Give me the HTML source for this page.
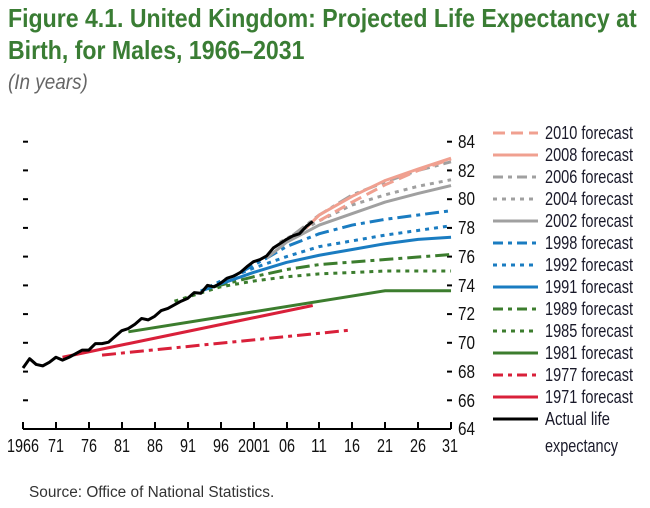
<!DOCTYPE html>
<html><head><meta charset="utf-8"><style>
body{margin:0;background:#fff;width:650px;height:508px;overflow:hidden;font-family:"Liberation Sans",sans-serif}
.t{position:absolute;left:8px;color:#3a7d34;font-weight:bold;font-size:26px;white-space:nowrap;transform-origin:0 0;transform:scaleX(0.888)}
</style></head><body>
<div class="t" style="top:3px">Figure 4.1. United Kingdom: Projected Life Expectancy at</div>
<div class="t" style="top:35px">Birth, for Males, 1966–2031</div>
<div style="position:absolute;left:8px;top:71px;font-style:italic;color:#666;font-size:21px;transform-origin:0 0;transform:scaleX(0.9)">(In years)</div>
<div style="position:absolute;left:29px;top:484px;color:#333;font-size:15.4px">Source: Office of National Statistics.</div>
<svg width="650" height="508" style="position:absolute;left:0;top:0" font-family="Liberation Sans, sans-serif">
<g stroke="#000" stroke-width="2">
<line x1="23" y1="429" x2="451" y2="429"/>
<line x1="23" y1="422" x2="23" y2="429"/><line x1="56" y1="422" x2="56" y2="429"/><line x1="89" y1="422" x2="89" y2="429"/><line x1="122" y1="422" x2="122" y2="429"/><line x1="155" y1="422" x2="155" y2="429"/><line x1="188" y1="422" x2="188" y2="429"/><line x1="221" y1="422" x2="221" y2="429"/><line x1="254" y1="422" x2="254" y2="429"/><line x1="287" y1="422" x2="287" y2="429"/><line x1="319" y1="422" x2="319" y2="429"/><line x1="352" y1="422" x2="352" y2="429"/><line x1="385" y1="422" x2="385" y2="429"/><line x1="418" y1="422" x2="418" y2="429"/><line x1="451" y1="422" x2="451" y2="429"/>
</g>
<g stroke="#000" stroke-width="2">
<line x1="23" y1="141.7" x2="28" y2="141.7"/><line x1="23" y1="170.4" x2="28" y2="170.4"/><line x1="23" y1="199.2" x2="28" y2="199.2"/><line x1="23" y1="227.9" x2="28" y2="227.9"/><line x1="23" y1="256.6" x2="28" y2="256.6"/><line x1="23" y1="285.4" x2="28" y2="285.4"/><line x1="23" y1="314.1" x2="28" y2="314.1"/><line x1="23" y1="342.8" x2="28" y2="342.8"/><line x1="23" y1="371.6" x2="28" y2="371.6"/><line x1="23" y1="400.3" x2="28" y2="400.3"/>
<line x1="447" y1="141.7" x2="452" y2="141.7"/><line x1="447" y1="170.4" x2="452" y2="170.4"/><line x1="447" y1="199.2" x2="452" y2="199.2"/><line x1="447" y1="227.9" x2="452" y2="227.9"/><line x1="447" y1="256.6" x2="452" y2="256.6"/><line x1="447" y1="285.4" x2="452" y2="285.4"/><line x1="447" y1="314.1" x2="452" y2="314.1"/><line x1="447" y1="342.8" x2="452" y2="342.8"/><line x1="447" y1="371.6" x2="452" y2="371.6"/><line x1="447" y1="400.3" x2="452" y2="400.3"/>
</g>
<g font-size="18" fill="#111">
<text x="458" y="148" textLength="17" lengthAdjust="spacingAndGlyphs">84</text><text x="458" y="177" textLength="17" lengthAdjust="spacingAndGlyphs">82</text><text x="458" y="205" textLength="17" lengthAdjust="spacingAndGlyphs">80</text><text x="458" y="234" textLength="17" lengthAdjust="spacingAndGlyphs">78</text><text x="458" y="263" textLength="17" lengthAdjust="spacingAndGlyphs">76</text><text x="458" y="292" textLength="17" lengthAdjust="spacingAndGlyphs">74</text><text x="458" y="320" textLength="17" lengthAdjust="spacingAndGlyphs">72</text><text x="458" y="349" textLength="17" lengthAdjust="spacingAndGlyphs">70</text><text x="458" y="378" textLength="17" lengthAdjust="spacingAndGlyphs">68</text><text x="458" y="407" textLength="17" lengthAdjust="spacingAndGlyphs">66</text><text x="458" y="435" textLength="17" lengthAdjust="spacingAndGlyphs">64</text>
</g>
<g font-size="18" fill="#111">
<text x="7" y="452" textLength="32" lengthAdjust="spacingAndGlyphs">1966</text><text x="48" y="452" textLength="16" lengthAdjust="spacingAndGlyphs">71</text><text x="81" y="452" textLength="16" lengthAdjust="spacingAndGlyphs">76</text><text x="114" y="452" textLength="16" lengthAdjust="spacingAndGlyphs">81</text><text x="147" y="452" textLength="16" lengthAdjust="spacingAndGlyphs">86</text><text x="180" y="452" textLength="16" lengthAdjust="spacingAndGlyphs">91</text><text x="213" y="452" textLength="16" lengthAdjust="spacingAndGlyphs">96</text><text x="238" y="452" textLength="32" lengthAdjust="spacingAndGlyphs">2001</text><text x="279" y="452" textLength="16" lengthAdjust="spacingAndGlyphs">06</text><text x="311" y="452" textLength="16" lengthAdjust="spacingAndGlyphs">11</text><text x="344" y="452" textLength="16" lengthAdjust="spacingAndGlyphs">16</text><text x="377" y="452" textLength="16" lengthAdjust="spacingAndGlyphs">21</text><text x="410" y="452" textLength="16" lengthAdjust="spacingAndGlyphs">26</text><text x="442" y="452" textLength="16" lengthAdjust="spacingAndGlyphs">31</text>
</g>
<g transform="translate(23,141.7) scale(6.585,14.37)" fill="none" stroke-width="3" stroke-linejoin="round">
<polyline vector-effect="non-scaling-stroke" stroke="#d9203a" points="6,15 44,11.4"/>
<polyline vector-effect="non-scaling-stroke" stroke="#d9203a" stroke-dasharray="14,5,4,5" points="12,14.85 50,13.1"/>
<polyline vector-effect="non-scaling-stroke" stroke="#3c7d2e" points="16,13.23 55,10.37 65,10.37"/>
<polyline vector-effect="non-scaling-stroke" stroke="#3c7d2e" stroke-dasharray="4,5" points="23,11.1 30,10.1 35,9.7 40,9.4 45,9.2 55,9.0 65,9.0"/>
<polyline vector-effect="non-scaling-stroke" stroke="#3c7d2e" stroke-dasharray="14,5,4,5" points="29,10.1 35,9.4 40,8.9 45,8.55 55,8.2 65,7.85"/>
<polyline vector-effect="non-scaling-stroke" stroke="#1a7cc1" points="27,10.4 30,9.9 35,9.1 40,8.4 45,7.9 50,7.5 55,7.1 60,6.8 65,6.65"/>
<polyline vector-effect="non-scaling-stroke" stroke="#1a7cc1" stroke-dasharray="4,5" points="27,10.4 30,9.7 35,8.8 40,8.0 45,7.3 55,6.5 65,5.85"/>
<polyline vector-effect="non-scaling-stroke" stroke="#1a7cc1" stroke-dasharray="14,5,4,5" points="33,9.1 37,8.1 40,7.3 45,6.4 50,5.8 55,5.4 65,4.8"/>
<polyline vector-effect="non-scaling-stroke" stroke="#a0a0a0" points="37,8.1 40,7.0 45,5.8 50,5.0 55,4.2 60,3.6 65,3.05"/>
<polyline vector-effect="non-scaling-stroke" stroke="#a0a0a0" stroke-dasharray="4,5" points="39,7.0 45,5.5 50,4.4 55,3.7 60,3.1 65,2.65"/>
<polyline vector-effect="non-scaling-stroke" stroke="#a0a0a0" stroke-dasharray="14,5,4,5" points="41,6.5 45,5.1 50,3.7 55,2.8 60,2.0 65,1.4"/>
<polyline vector-effect="non-scaling-stroke" stroke="#f0a090" points="43,6.0 45,5.1 50,3.8 55,2.7 60,1.9 65,1.15"/>
<polyline vector-effect="non-scaling-stroke" stroke="#f0a090" stroke-dasharray="12,6" points="45,5.5 50,4.2 55,3.0 60,2.0 65,1.2"/>
<polyline vector-effect="non-scaling-stroke" stroke="#000" points="0,15.75 1,15.1 2,15.5 3,15.6 4,15.35 5,15 6,15.2 7,15 8,14.75 9,14.5 10,14.5 11,14.05 12,14.05 13,13.95 14,13.55 15,13.15 16,13 17,12.7 18,12.3 19,12.4 20,12.15 21,11.75 22,11.6 23,11.35 24,11.1 25,10.9 26,10.5 27,10.55 28,10 29,10.1 30,9.85 31,9.5 32,9.35 33,9.1 34,8.7 35,8.35 36,8.2 37,7.95 38,7.4 39,7.1 40,6.8 41,6.55 42,6.4 43,5.9 44,5.55"/>
</g>
<g fill="none" stroke-width="3">
<line x1="493" y1="133" x2="538" y2="133" stroke="#f0a090" stroke-dasharray="12,6"/>
<line x1="493" y1="155" x2="538" y2="155" stroke="#f0a090"/>
<line x1="493" y1="177" x2="538" y2="177" stroke="#a0a0a0" stroke-dasharray="10,5,4,5"/>
<line x1="493" y1="199" x2="538" y2="199" stroke="#a0a0a0" stroke-dasharray="4,5"/>
<line x1="493" y1="221" x2="538" y2="221" stroke="#a0a0a0"/>
<line x1="493" y1="243" x2="538" y2="243" stroke="#1a7cc1" stroke-dasharray="10,5,4,5"/>
<line x1="493" y1="265" x2="538" y2="265" stroke="#1a7cc1" stroke-dasharray="4,5"/>
<line x1="493" y1="287" x2="538" y2="287" stroke="#1a7cc1"/>
<line x1="493" y1="309" x2="538" y2="309" stroke="#3c7d2e" stroke-dasharray="10,5,4,5"/>
<line x1="493" y1="331" x2="538" y2="331" stroke="#3c7d2e" stroke-dasharray="4,5"/>
<line x1="493" y1="353" x2="538" y2="353" stroke="#3c7d2e"/>
<line x1="493" y1="375" x2="538" y2="375" stroke="#d9203a" stroke-dasharray="10,5,4,5"/>
<line x1="493" y1="397" x2="538" y2="397" stroke="#d9203a"/>
<line x1="493" y1="419" x2="538" y2="419" stroke="#000"/>
</g>
<g font-size="18" fill="#1a1a2a">
<text x="545" y="139" textLength="88" lengthAdjust="spacingAndGlyphs">2010 forecast</text><text x="545" y="161" textLength="88" lengthAdjust="spacingAndGlyphs">2008 forecast</text><text x="545" y="183" textLength="88" lengthAdjust="spacingAndGlyphs">2006 forecast</text><text x="545" y="205" textLength="88" lengthAdjust="spacingAndGlyphs">2004 forecast</text><text x="545" y="227" textLength="88" lengthAdjust="spacingAndGlyphs">2002 forecast</text><text x="545" y="249" textLength="88" lengthAdjust="spacingAndGlyphs">1998 forecast</text><text x="545" y="271" textLength="88" lengthAdjust="spacingAndGlyphs">1992 forecast</text><text x="545" y="293" textLength="88" lengthAdjust="spacingAndGlyphs">1991 forecast</text><text x="545" y="315" textLength="88" lengthAdjust="spacingAndGlyphs">1989 forecast</text><text x="545" y="337" textLength="88" lengthAdjust="spacingAndGlyphs">1985 forecast</text><text x="545" y="359" textLength="88" lengthAdjust="spacingAndGlyphs">1981 forecast</text><text x="545" y="381" textLength="88" lengthAdjust="spacingAndGlyphs">1977 forecast</text><text x="545" y="403" textLength="88" lengthAdjust="spacingAndGlyphs">1971 forecast</text><text x="545" y="425" textLength="65" lengthAdjust="spacingAndGlyphs">Actual life</text><text x="545" y="452" textLength="73" lengthAdjust="spacingAndGlyphs">expectancy</text>
</g>
</svg>
</body></html>
